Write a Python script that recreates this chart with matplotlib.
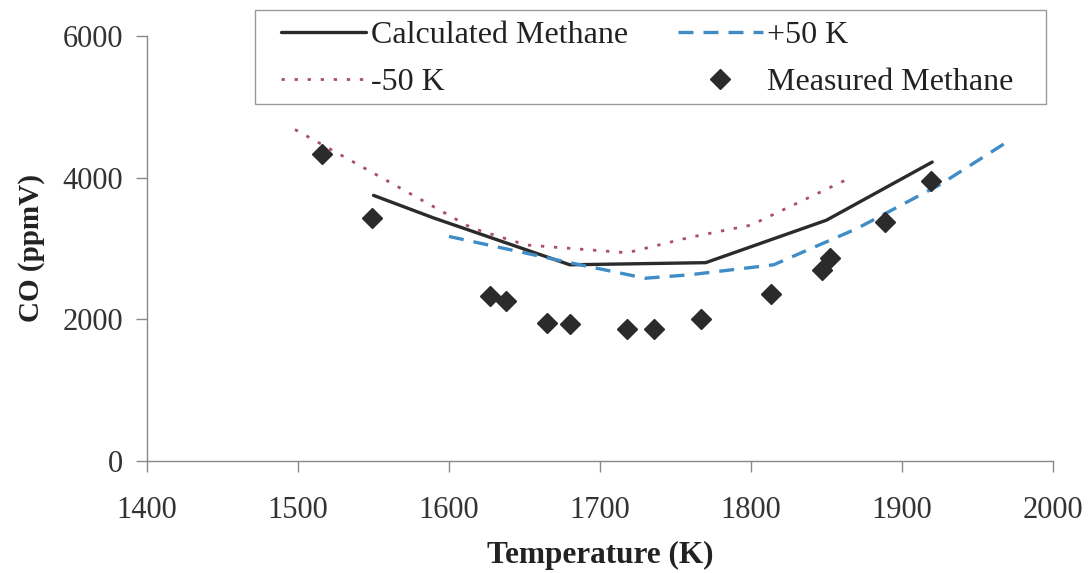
import matplotlib
matplotlib.use("Agg")
import matplotlib.pyplot as plt
from matplotlib.patches import Rectangle

plt.rcParams['font.family'] = ['Liberation Serif', 'DejaVu Serif']

# Calculated methane
calc_T = [1550, 1590, 1680, 1770, 1850, 1920]
calc_CO = [3750, 3430, 2770, 2800, 3400, 4220]

# +50 K
plus_T = [1600, 1680, 1730, 1760, 1815, 1870, 1925, 1970]
plus_CO = [3170, 2800, 2580, 2630, 2770, 3280, 3900, 4510]

# -50 K
minus_T = [1498, 1552, 1615, 1651, 1718, 1760, 1800, 1867]
minus_CO = [4680, 4040, 3290, 3050, 2940, 3160, 3330, 4010]

# Measured methane
meas_T = [1516, 1549, 1627, 1638, 1665, 1680, 1718, 1736, 1767, 1813, 1847, 1852, 1889, 1919]
meas_CO = [4340, 3430, 2335, 2265, 1945, 1935, 1860, 1865, 2005, 2360, 2700, 2860, 3370, 3960]

xticks = [1400, 1500, 1600, 1700, 1800, 1900, 2000]
yticks = [0, 2000, 4000, 6000]

fig = plt.figure(figsize=(10.92, 5.73), dpi=100)
ax = fig.add_axes([147/1092, 1-461/573, 906/1092, 425/573])

l_calc, = ax.plot(calc_T, calc_CO, color='#2b2b2b', lw=2.4, solid_capstyle='round')
l_plus, = ax.plot(plus_T, plus_CO, color='#3f8cc6', lw=2.4, dashes=(4.5, 3.0))
l_minus, = ax.plot(minus_T, minus_CO, color='#a8506e', lw=2.0, dashes=(1.2, 3.5))
l_meas, = ax.plot(meas_T, meas_CO, ls='none', marker='D', ms=10.5, color='#2b2b2b')

ax.set_xlim(1400, 2000)
ax.set_ylim(0, 6000)
ax.set_xticks(xticks)
ax.set_yticks(yticks)
ax.tick_params(axis='both', direction='out', length=8, width=1, color='#888888',
               labelsize=22, labelcolor='#333333')
ax.tick_params(axis='x', pad=17)
ax.tick_params(axis='y', pad=9)
for s in ['top', 'right']:
    ax.spines[s].set_visible(False)
for s in ['left', 'bottom']:
    ax.spines[s].set_color('#888888')
    ax.spines[s].set_linewidth(1)

ax.set_xlabel('Temperature (K)', fontsize=22.5, fontweight='bold', color='#222222', labelpad=12)
ax.set_ylabel('CO (ppmV)', fontsize=21, fontweight='bold', color='#222222', labelpad=13)

fig.add_artist(Rectangle((255/1092, 1-104/573), 791/1092, 94/573,
                         transform=fig.transFigure, fill=False,
                         edgecolor='#999999', linewidth=1))

leg = fig.legend([l_calc, l_minus, l_plus, l_meas],
                 ['Calculated Methane', '-50 K', '+50 K', 'Measured Methane'],
                 ncol=2, loc='upper left', bbox_to_anchor=(281/1092, 1-21/573),
                 fontsize=23, frameon=False,
                 handlelength=2.66, handletextpad=0.15, columnspacing=1.56,
                 borderpad=0, labelspacing=0.55, borderaxespad=0)
for t in leg.get_texts():
    t.set_color('#222222')

fig.savefig('out.png', dpi=100)
